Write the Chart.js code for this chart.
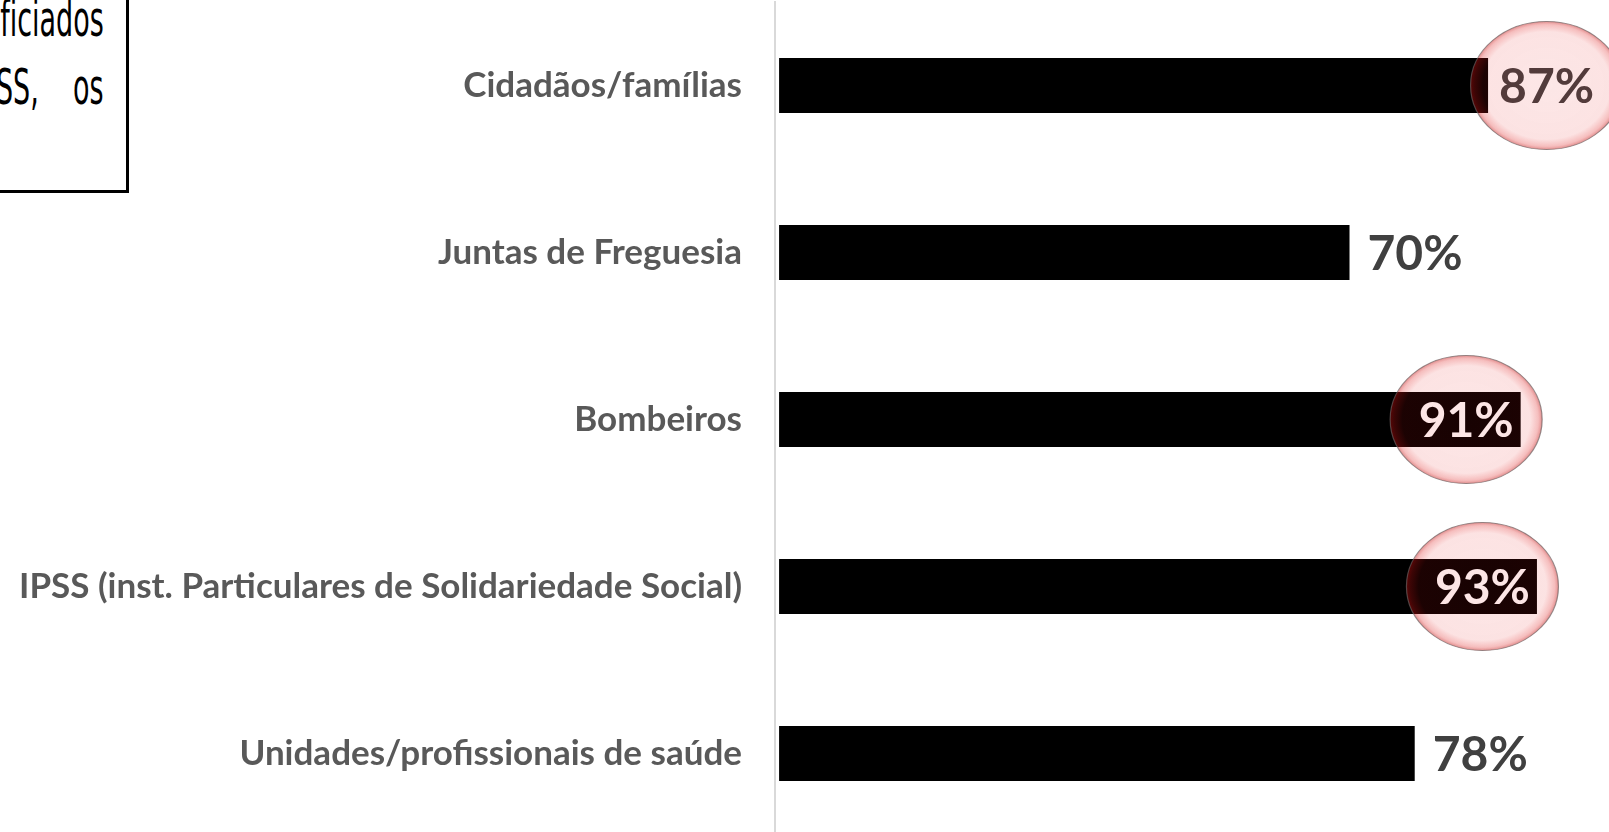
<!DOCTYPE html>
<html lang="pt">
<head>
<meta charset="utf-8">
<script src="https://cdn.jsdelivr.net/npm/chart.js@4/dist/chart.umd.min.js"></script>
<style>
  html, body { margin: 0; padding: 0; background: #fff; overflow: hidden; width: 1609px; height: 832px; }
  #caixa {
    position: absolute; left: -400px; top: -40px; width: 529px; height: 233px;
    border: 3px solid #000; background: #fff; box-sizing: border-box;
    font-family: "DejaVu Sans", sans-serif; font-stretch: condensed;
    font-variant-ligatures: none;
    font-size: 50px; color: #000;
  }
  #caixa .linha {
    position: absolute; right: 22px; line-height: 50px; white-space: pre;
    transform: scaleX(0.6); transform-origin: right center;
  }
  #grafico { position: absolute; left: 0; top: 0; }
</style>
</head>
<body>
<div id="caixa">
  <div class="linha" style="top: 31px;">Os mais beneficiados</div>
  <div class="linha" style="top: 99px;">foram as IPSS,    os</div>
</div>
<canvas id="grafico" width="1609" height="840"></canvas>
<script>
const categorias = [
  "Cidadãos/famílias",
  "Juntas de Freguesia",
  "Bombeiros",
  "IPSS (inst. Particulares de Solidariedade Social)",
  "Unidades/profissionais de saúde"
];
const percentagens = [87, 70, 91, 93, 78];
const destaques = [true, false, true, true, false];

// rótulos de valor e elipses de destaque
const rotulosPlugin = {
  id: "rotulos",
  afterDatasetsDraw(chart) {
    const ctx = chart.ctx;
    const meta = chart.getDatasetMeta(0);
    ctx.save();
    ctx.font = "bold 48px Lato";
    ctx.textBaseline = "middle";
    const centros = [];
    meta.data.forEach((barra, i) => {
      const texto = percentagens[i] + "%";
      const largura = ctx.measureText(texto).width;
      let x;
      if (percentagens[i] >= 90) {
        ctx.fillStyle = "#ffffff";
        ctx.textAlign = "right";
        x = barra.x - 7;
        ctx.fillText(texto, x, barra.y + 2);
        centros.push(x - largura / 2);
      } else {
        ctx.fillStyle = "#404040";
        ctx.textAlign = "left";
        x = barra.x + (destaques[i] ? 11 : 18);
        ctx.fillText(texto, x, barra.y + 2);
        centros.push(x + largura / 2);
      }
    });

    meta.data.forEach((barra, i) => {
      if (!destaques[i]) return;
      const rx = 76, ry = 64;
      ctx.save();
      ctx.translate(centros[i], barra.y);
      ctx.scale(1, ry / rx);
      const grad = ctx.createRadialGradient(0, 0, 0, 0, 0, rx);
      grad.addColorStop(0, "rgba(230,20,20,0.10)");
      grad.addColorStop(0.84, "rgba(230,20,20,0.12)");
      grad.addColorStop(0.95, "rgba(220,20,20,0.28)");
      grad.addColorStop(1, "rgba(190,10,10,0.45)");
      ctx.beginPath();
      ctx.arc(0, 0, rx, 0, Math.PI * 2);
      ctx.fillStyle = grad;
      ctx.fill();
      ctx.lineWidth = 1.2;
      ctx.strokeStyle = "rgba(110,95,95,0.7)";
      ctx.stroke();
      ctx.restore();
    });
    ctx.restore();
  }
};

new Chart(document.getElementById("grafico"), {
  type: "bar",
  data: {
    labels: categorias,
    datasets: [
      {
        data: percentagens,
        backgroundColor: "#000000",
        barPercentage: 0.33,
        categoryPercentage: 1
      }
    ]
  },
  options: {
    indexAxis: "y",
    responsive: false,
    animation: false,
    devicePixelRatio: 1,
    layout: { padding: { top: 2, right: 15, bottom: 3, left: 0 } },
    plugins: {
      legend: { display: false },
      tooltip: { enabled: false }
    },
    scales: {
      x: {
        display: false,
        min: -0.5,
        max: 100
      },
      y: {
        afterFit(scale) {
          scale.width = 775;
          scale.paddingTop = 0;
          scale.paddingBottom = 0;
        },
        grid: { display: true, color: "rgba(0,0,0,0)", drawTicks: false },
        border: { display: true, color: "#d9d9d9", width: 2 },
        ticks: {
          padding: 33,
          color: "#595959",
          font: { family: "Lato", weight: "bold", size: 35 }
        }
      }
    }
  },
  plugins: [rotulosPlugin]
});
</script>
</body>
</html>
